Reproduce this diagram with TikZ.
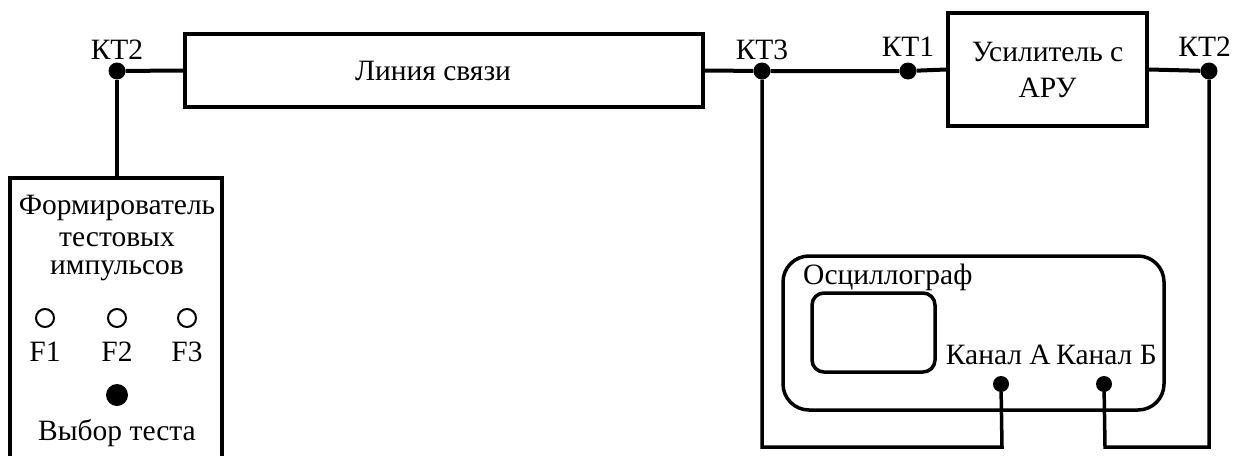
\documentclass[tikz,border=0pt]{standalone}
\usepackage{fontspec}
\setmainfont{Liberation Serif}
\newfontfamily\tnrfont{Liberation Serif}
\usetikzlibrary{positioning}
\tikzset{
  block/.style={draw, line width=4pt, inner sep=0pt, align=center},
  wire/.style={line width=4pt},
  thinwire/.style={line width=3.5pt},
  tpoint/.style={fill=black, circle, inner sep=0pt, minimum size=17pt},
  socket/.style={draw, circle, line width=2pt, inner sep=0pt, minimum size=18pt},
  knob/.style={fill=black, circle, inner sep=0pt, minimum size=22pt},
  tplabel/.style={inner sep=0pt, anchor=base},
  txt/.style={inner sep=0pt}
}
\def\Fsize{\tnrfont\fontsize{29.5}{36}\selectfont}
\def\Wbot{447}
\begin{document}
\begin{tikzpicture}[x=1pt, y=-1pt, font=\Fsize]
  \useasboundingbox (0,0) rectangle (1233,455);
  \clip (0,0) rectangle (1233,455);

  % control points
  \node[tpoint] (kt2l) at (117,71) {};
  \node[tpoint] (kt3) at (762,71) {};
  \node[tpoint] (kt1) at (908,71) {};
  \node[tpoint] (kt2r) at (1209,71) {};
  \node[tplabel] at (117,59) {КТ2};
  \node[tplabel] at (762,59) {КТ3};
  \node[tplabel] at (908,56) {КТ1};
  \node[tplabel, anchor=base east] at (1231,56) {КТ2};

  % line and amplifier
  \node[block, minimum width=518pt, minimum height=73pt] (link) at (444,70.5) {};
  \node[txt] at (433,71) {Линия связи};
  \node[block, minimum width=199pt, minimum height=113pt] (amp) at (1047.5,69.5) {Усилитель с\\АРУ};

  \draw[wire] (kt2l) -- (link.west);
  \draw[wire] (link.east) -- (kt3) -- (kt1) -- (amp.west);
  \draw[wire] (amp.east) -- (kt2r);

  % pulse generator
  \draw[wire] (10,178) rectangle (222,470);
  \coordinate (gen) at (117,178);
  \draw[wire] (kt2l) -- (gen);
  \node[txt] at (117,208) {Формирователь};
  \node[txt] at (117,240) {тестовых};
  \node[txt] at (117,271) {импульсов};
  \node[socket] (f1) at (45,318) {};
  \node[socket] (f2) at (117,318) {};
  \node[socket] (f3) at (187,318) {};
  \node[txt, below=14pt of f1] {F1};
  \node[txt, below=14pt of f2] {F2};
  \node[txt, below=14pt of f3] {F3};
  \node[knob] (sel) at (117,395) {};
  \node[txt] at (117,433) {Выбор теста};

  % oscilloscope
  \draw[thinwire, rounded corners=26pt] (783,256) rectangle (1164,410);
  \draw[thinwire, rounded corners=12pt] (812,293) rectangle (935,372);
  \node[txt, anchor=west] at (803,277) {Осциллограф};
  \node[txt, anchor=east] at (1051,355) {Канал А};
  \node[txt, anchor=west] at (1056,355) {Канал Б};
  \node[tpoint, minimum size=16pt] (cha) at (1001,384) {};
  \node[tpoint, minimum size=16pt] (chb) at (1104,384) {};

  \draw[thinwire] (kt3) |- (1002,\Wbot) -- (cha);
  \draw[thinwire] (kt2r) |- (1105,\Wbot) -- (chb);
\end{tikzpicture}
\end{document}
